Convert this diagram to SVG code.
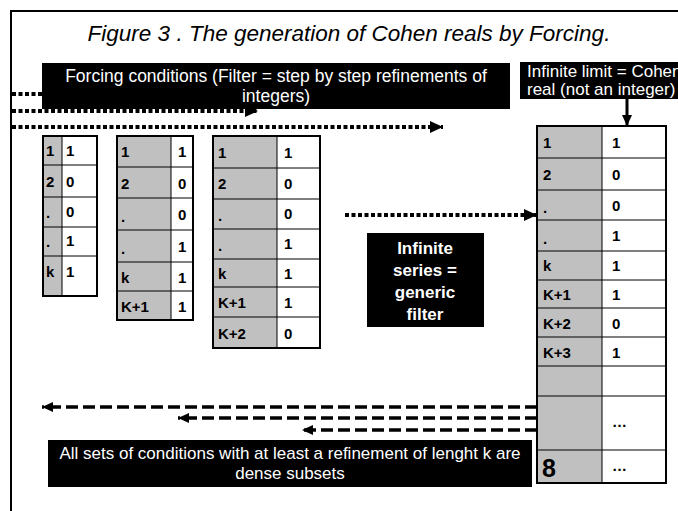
<svg xmlns="http://www.w3.org/2000/svg" width="678" height="511" viewBox="0 0 678 511">
<defs>
<style>
.frame{fill:none;stroke:#000;stroke-width:2}
.title{font-family:"Liberation Sans",Arial,sans-serif;font-style:italic;font-size:22.5px;fill:#000}
.box{fill:#000}
.wt{font-family:"Liberation Sans",Arial,sans-serif;font-size:17px;fill:#fff}
.wb{font-family:"Liberation Sans",Arial,sans-serif;font-size:17px;font-weight:bold;fill:#fff}
.gray{fill:#c0c0c0}
.white{fill:#fff}
.outer{fill:none;stroke:#000;stroke-width:2}
.grid{stroke:#000;stroke-width:1;fill:none}
.ct{font-family:"Liberation Sans",Arial,sans-serif;font-size:15px;font-weight:bold;fill:#000}
.dot{fill:none;stroke:#000;stroke-width:4;stroke-dasharray:4 2.5}
.dash{fill:none;stroke:#000;stroke-width:3.5;stroke-dasharray:12 5}
.solid{fill:none;stroke:#000;stroke-width:3}
</style>
<marker id="ah" markerUnits="userSpaceOnUse" markerWidth="14" markerHeight="12" refX="13" refY="6" orient="auto">
<path d="M0,0 L13,6 L0,12 Z" fill="#000"/>
</marker>
<marker id="ahs" markerUnits="userSpaceOnUse" markerWidth="12" markerHeight="10" refX="11" refY="5" orient="auto">
<path d="M0,0 L11,5 L0,10 Z" fill="#000"/>
</marker>
</defs>
<rect width="678" height="511" fill="#fff"/>
<path class="frame" d="M11,511 V11 H678"/>
<text class="title" x="349" y="41" text-anchor="middle">Figure 3 . The generation of Cohen reals by Forcing.</text>

<g id="connectors">
<line class="dot" x1="12" y1="94" x2="60" y2="94"/>
<line class="dot" x1="12" y1="111" x2="258" y2="111" marker-end="url(#ah)"/>
<line class="dot" x1="12" y1="127" x2="443" y2="127" marker-end="url(#ah)"/>
<line class="dot" x1="345" y1="215" x2="537" y2="215" marker-end="url(#ah)"/>
<line class="solid" x1="627" y1="99" x2="627" y2="126" marker-end="url(#ahs)"/>
<line class="dash" x1="537" y1="407" x2="42" y2="407" marker-end="url(#ahs)"/>
<line class="dash" x1="537" y1="418" x2="178" y2="418" marker-end="url(#ahs)"/>
<line class="dash" x1="537" y1="430" x2="302" y2="430" marker-end="url(#ahs)"/>
</g>

<g id="forcing-conditions">
<rect class="box" x="42" y="63" width="468" height="46"/>
<text class="wt" x="276" y="82" text-anchor="middle" style="font-size:17.5px">Forcing conditions (Filter = step by step refinements of</text>
<text class="wt" x="276" y="102" text-anchor="middle" style="font-size:17.5px">integers)</text>
</g>

<g id="infinite-limit">
<rect class="box" x="520" y="62" width="158" height="37"/>
<text class="wt" x="527" y="77">Infinite limit = Cohen</text>
<text class="wt" x="527" y="95">real (not an integer)</text>
</g>

<g id="table1">
<rect class="gray" x="43" y="136" width="19" height="160"/>
<rect class="white" x="62" y="136" width="35" height="160"/>
<path class="grid" d="M62,136 V296 M43,165 H97 M43,197 H97 M43,227 H97 M43,256 H97"/>
<rect class="outer" x="43" y="136" width="54" height="160"/>
<text class="ct" x="46" y="156">1</text><text class="ct" x="66" y="156">1</text>
<text class="ct" x="46" y="187">2</text><text class="ct" x="66" y="187">0</text>
<text class="ct" x="46" y="218">.</text><text class="ct" x="66" y="217">0</text>
<text class="ct" x="46" y="247">.</text><text class="ct" x="66" y="246">1</text>
<text class="ct" x="46" y="277">k</text><text class="ct" x="66" y="277">1</text>
</g>

<g id="table2">
<rect class="gray" x="117" y="136" width="54" height="184"/>
<rect class="white" x="171" y="136" width="22" height="184"/>
<path class="grid" d="M171,136 V320 M117,167 H193 M117,198 H193 M117,230 H193 M117,262 H193 M117,291 H193"/>
<rect class="outer" x="117" y="136" width="76" height="184"/>
<text class="ct" x="121" y="157">1</text><text class="ct" x="178" y="157">1</text>
<text class="ct" x="121" y="189">2</text><text class="ct" x="178" y="189">0</text>
<text class="ct" x="121" y="222">.</text><text class="ct" x="178" y="220">0</text>
<text class="ct" x="121" y="254">.</text><text class="ct" x="178" y="252">1</text>
<text class="ct" x="121" y="283">k</text><text class="ct" x="178" y="283">1</text>
<text class="ct" x="121" y="312">K+1</text><text class="ct" x="178" y="312">1</text>
</g>

<g id="table3">
<rect class="gray" x="213" y="136" width="64" height="212"/>
<rect class="white" x="277" y="136" width="43" height="212"/>
<path class="grid" d="M277,136 V348 M213,168 H320 M213,199 H320 M213,229 H320 M213,259 H320 M213,287 H320 M213,317 H320"/>
<rect class="outer" x="213" y="136" width="107" height="212"/>
<text class="ct" x="218" y="158">1</text><text class="ct" x="284" y="158">1</text>
<text class="ct" x="218" y="189">2</text><text class="ct" x="284" y="189">0</text>
<text class="ct" x="218" y="221">.</text><text class="ct" x="284" y="219">0</text>
<text class="ct" x="218" y="251">.</text><text class="ct" x="284" y="249">1</text>
<text class="ct" x="218" y="279">k</text><text class="ct" x="284" y="279">1</text>
<text class="ct" x="218" y="308">K+1</text><text class="ct" x="284" y="308">1</text>
<text class="ct" x="218" y="339">K+2</text><text class="ct" x="284" y="339">0</text>
</g>

<g id="generic-filter">
<rect class="box" x="367" y="233" width="117" height="94"/>
<text class="wb" x="425" y="254" text-anchor="middle">Infinite</text>
<text class="wb" x="425" y="276" text-anchor="middle">series =</text>
<text class="wb" x="425" y="298" text-anchor="middle">generic</text>
<text class="wb" x="425" y="320" text-anchor="middle">filter</text>
</g>

<g id="cohen-real">
<rect class="gray" x="537" y="126" width="65" height="357"/>
<rect class="white" x="602" y="126" width="64" height="357"/>
<path class="grid" d="M602,126 V483 M537,158 H666 M537,190 H666 M537,220 H666 M537,251 H666 M537,280 H666 M537,308 H666 M537,337 H666 M537,366 H666 M537,396 H666 M537,450 H666"/>
<rect class="outer" x="537" y="126" width="129" height="357"/>
<text class="ct" x="543" y="148">1</text><text class="ct" x="612" y="148">1</text>
<text class="ct" x="543" y="180">2</text><text class="ct" x="612" y="180">0</text>
<text class="ct" x="543" y="213">.</text><text class="ct" x="612" y="211">0</text>
<text class="ct" x="543" y="244">.</text><text class="ct" x="612" y="241">1</text>
<text class="ct" x="543" y="271">k</text><text class="ct" x="612" y="271">1</text>
<text class="ct" x="543" y="300">K+1</text><text class="ct" x="612" y="300">1</text>
<text class="ct" x="543" y="329">K+2</text><text class="ct" x="612" y="329">0</text>
<text class="ct" x="543" y="358">K+3</text><text class="ct" x="612" y="358">1</text>
<text class="ct" x="612" y="427">…</text>
<text class="ct" x="612" y="471">…</text>
<text x="542" y="477" style="font-family:'Liberation Sans',Arial,sans-serif;font-size:25px;font-weight:bold;fill:#000">8</text>
</g>

<g id="dense-subsets">
<rect class="box" x="48" y="440" width="484" height="47"/>
<text class="wt" x="290" y="459" text-anchor="middle">All sets of conditions with at least a refinement of lenght k are</text>
<text class="wt" x="290" y="479" text-anchor="middle">dense subsets</text>
</g>
</svg>
